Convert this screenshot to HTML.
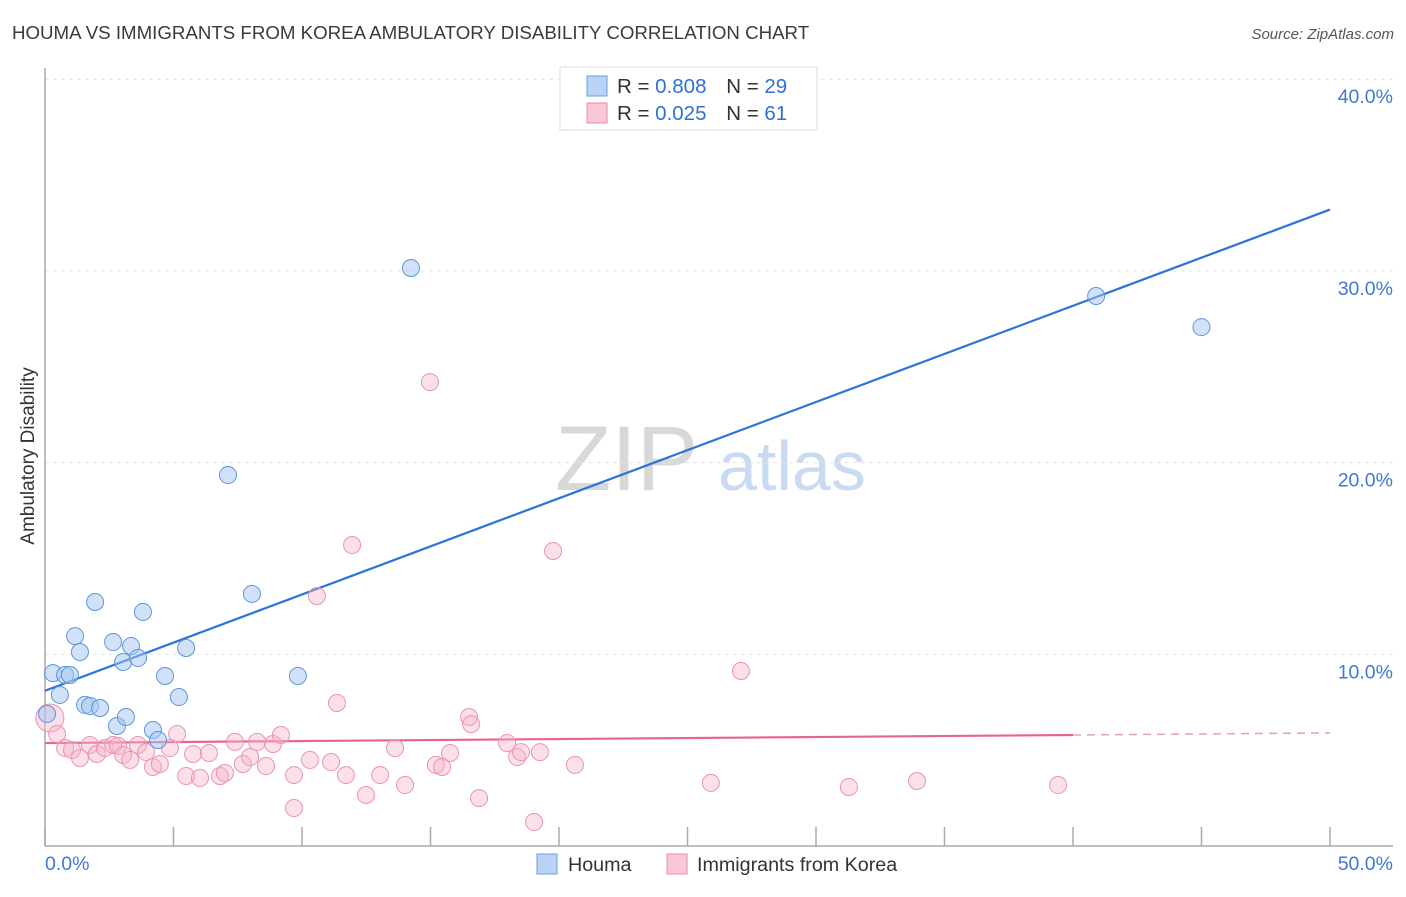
<!DOCTYPE html>
<html><head><meta charset="utf-8"><style>
body{margin:0;background:#fff;font-family:"Liberation Sans",sans-serif;}
svg text{font-family:"Liberation Sans",sans-serif;}
</style></head><body>
<svg id="chart" width="1406" height="892" xmlns="http://www.w3.org/2000/svg">
<text x="12" y="39" font-size="18.7" fill="#3a3a3a">HOUMA VS IMMIGRANTS FROM KOREA AMBULATORY DISABILITY CORRELATION CHART</text>
<text x="1394" y="39" font-size="15" fill="#555" text-anchor="end" font-style="italic">Source: ZipAtlas.com</text>
<g>
<text x="555" y="490" font-size="92" fill="#d8d8d8" font-family="Liberation Serif" >ZIP</text>
<text x="718" y="490" font-size="70" fill="#c9daf2">atlas</text>
</g>
<g id="grid"></g><g id="axes"></g><g id="lines"></g><g id="pts"></g>
<text transform="translate(34,456) rotate(-90)" font-size="19" fill="#333" text-anchor="middle">Ambulatory Disability</text>
<g>
<rect x="560" y="67" width="257" height="63" fill="#fff" stroke="#ddd"/>
<rect x="587" y="76" width="20" height="20" fill="#b8d3f5" stroke="#6a9fe0"/>
<rect x="587" y="103" width="20" height="20" fill="#f9c8d7" stroke="#e88aa8"/>
<text x="617" y="93" font-size="20.5" fill="#333">R = <tspan fill="#2f6fd6">0.808</tspan>  <tspan dx="14">N = </tspan><tspan fill="#2f6fd6">29</tspan></text>
<text x="617" y="120" font-size="20.5" fill="#333">R = <tspan fill="#2f6fd6">0.025</tspan>  <tspan dx="14">N = </tspan><tspan fill="#2f6fd6"> 61</tspan></text>
</g>
<g>
<rect x="537" y="854" width="20" height="20" fill="#b8d3f5" stroke="#6a9fe0"/>
<text x="568" y="871" font-size="19.7" fill="#333">Houma</text>
<rect x="667" y="854" width="20" height="20" fill="#f9c8d7" stroke="#e88aa8"/>
<text x="697" y="871" font-size="19.7" fill="#333">Immigrants from Korea</text>
</g>
</svg>
<script>
const xTicks=[0,5,10,15,20,25,30,35,40,45,50];
const yTicks=[10,20,30,40];
const yTickLabels=["10.0%","20.0%","30.0%","40.0%"];
const houmaX=[0.08,0.31,0.58,0.78,0.97,1.17,1.36,1.56,1.75,1.95,2.14,2.65,2.8,3.04,3.15,3.35,3.62,3.81,4.2,4.4,4.67,5.21,5.49,7.12,8.05,9.84,14.24,40.9,45.0];
const houmaY=[6.89,9.02,7.88,8.92,8.92,10.95,10.12,7.36,7.30,12.73,7.2,10.64,6.26,9.6,6.73,10.43,9.81,12.21,6.05,5.53,8.87,7.77,10.33,19.35,13.15,8.87,30.15,28.69,27.07];
const koreaX=[0.19,0.47,0.78,1.05,1.36,1.75,2.02,2.33,2.65,2.84,3.04,3.31,3.62,3.93,4.2,4.47,4.86,5.14,5.49,5.76,6.03,6.38,6.81,7.0,7.39,7.7,7.98,8.25,8.6,8.87,9.18,9.69,9.69,10.31,10.58,11.13,11.36,11.71,11.95,12.49,13.04,13.62,14.01,14.98,15.21,15.45,15.76,16.5,16.58,16.89,17.98,18.37,18.52,19.03,19.26,19.77,20.62,25.91,27.08,31.28,33.93,39.42];
const koreaY=[6.68,5.84,5.11,5.01,4.59,5.27,4.8,5.11,5.27,5.22,4.75,4.49,5.27,4.9,4.12,4.28,5.11,5.84,3.65,4.8,3.55,4.85,3.65,3.81,5.43,4.28,4.64,5.43,4.17,5.32,5.79,3.7,1.98,4.49,13.04,4.38,7.46,3.7,15.7,2.66,3.7,5.11,3.18,24.2,4.23,4.12,4.85,6.73,6.36,2.5,5.37,4.64,4.9,1.25,4.9,15.39,4.23,3.29,9.13,3.08,3.39,3.18];
const houmaLine=[8.1,33.2];
const koreaLine=[5.37,5.79,5.9];
const NS="http://www.w3.org/2000/svg";
const X=v=>45+v*25.7, Y=v=>846-v*19.17;
function mk(tag,attrs,parent){const e=document.createElementNS(NS,tag);for(const k in attrs)e.setAttribute(k,attrs[k]);document.getElementById(parent).appendChild(e);return e;}
yTicks.forEach((t,i)=>{
 const g=mk('line',{x1:45,x2:1393,y1:Y(t),y2:Y(t),stroke:'#e2e2e2','stroke-dasharray':'4,4'},'grid');
 
 
 const l=mk('text',{x:1393,y:Y(t)+24,'font-size':19.5,fill:'#3f78d8','text-anchor':'end'},'axes');
 l.textContent=yTickLabels[i];
 
 
});
const ax=mk('line',{x1:45,x2:1393,y1:846,y2:846,stroke:'#aaa','stroke-width':1.5},'axes');


const ay=mk('line',{x1:45,x2:45,y1:68,y2:846,stroke:'#aaa','stroke-width':1.5},'axes');


xTicks.forEach(t=>{const e=mk('line',{x1:X(t),x2:X(t),y1:827,y2:846,stroke:'#aaa','stroke-width':1.5},'axes');
 
 });
const x0=mk('text',{x:45,y:870,'font-size':19.5,fill:'#3f78d8'},'axes');x0.textContent='0.0%';


const x1=mk('text',{x:1393,y:870,'font-size':19.5,fill:'#3f78d8','text-anchor':'end'},'axes');x1.textContent='50.0%';


koreaX.forEach((v,i)=>{const c=mk('circle',{cx:X(v),cy:Y(koreaY[i]),r:i==0?14:8.5,fill:'rgba(246,178,200,0.4)',stroke:'#ea94b0','stroke-width':1},'pts');
 
 });
houmaX.forEach((v,i)=>{const c=mk('circle',{cx:X(v),cy:Y(houmaY[i]),r:8.5,fill:'rgba(164,198,242,0.5)',stroke:'#5f95dc','stroke-width':1},'pts');
 
 });
const bl=mk('line',{x1:X(0),y1:Y(houmaLine[0]),x2:X(50),y2:Y(houmaLine[1]),stroke:'#2b72d9','stroke-width':2.2},'lines');


const pl=mk('line',{x1:X(0),y1:Y(koreaLine[0]),x2:X(40),y2:Y(koreaLine[1]),stroke:'#e8648f','stroke-width':2.2},'lines');


const pd=mk('line',{x1:X(40),y1:Y(koreaLine[1]),x2:X(50),y2:Y(koreaLine[2]),stroke:'#e8a0b8','stroke-width':1.5,'stroke-dasharray':'8,6'},'lines');


</script>
</body></html>
